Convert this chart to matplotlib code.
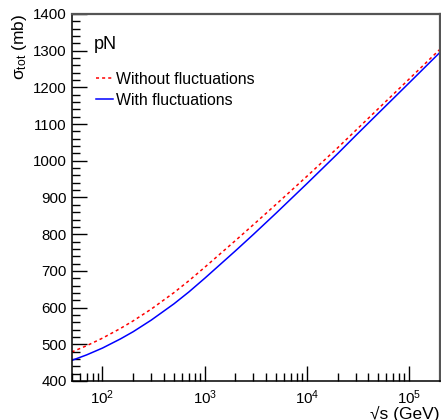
import matplotlib
matplotlib.use('Agg')
import matplotlib.pyplot as plt
from matplotlib.ticker import MultipleLocator, LogLocator, NullFormatter

plt.rcParams['font.family'] = ['Liberation Sans', 'DejaVu Sans']
plt.rcParams['mathtext.fontset'] = 'custom'
plt.rcParams['mathtext.rm'] = 'Liberation Sans'
plt.rcParams['mathtext.it'] = 'Liberation Sans:italic'

# sqrt(s) in GeV
sqrt_s = [50, 70, 100, 150, 200, 300, 500, 700, 1000, 2000, 3000, 5000,
          1e4, 2e4, 3e4, 5e4, 1e5, 2e5]
# total cross section (mb)
sig_no_fluct = [479.0, 496.1, 516.7, 543.2, 563.9, 595.9, 640.7, 673.1, 709.8,
                782.7, 826.1, 881.5, 957.8, 1035.5, 1082.7, 1142.2, 1222.8, 1303.8]
sig_fluct = [456.0, 471.1, 489.7, 514.7, 534.4, 565.9, 610.2, 642.6, 679.8,
             754.7, 799.6, 857.5, 937.8, 1019.5, 1068.7, 1129.7, 1212.3, 1295.3]

fig = plt.figure(figsize=(4.41, 4.20), dpi=100)
ax = fig.add_axes([0.1626, 0.0929, 0.835, 0.8738])

ax.plot(sqrt_s, sig_no_fluct, color='red', lw=1.1, ls=(0, (2, 2)), label='Without fluctuations')
ax.plot(sqrt_s, sig_fluct, color='blue', lw=1.1, label='With fluctuations')

ax.set_xscale('log')
ax.set_xlim(50, 2e5)
ax.set_ylim(400, 1400)

ax.yaxis.set_major_locator(MultipleLocator(100))
ax.yaxis.set_minor_locator(MultipleLocator(20))
ax.xaxis.set_major_locator(LogLocator(base=10, numticks=10))
ax.xaxis.set_minor_locator(LogLocator(base=10, subs=range(2, 10), numticks=10))
ax.xaxis.set_minor_formatter(NullFormatter())

ax.tick_params(which='both', direction='in', top=False, right=False, labelsize=10.8, width=1)
ax.tick_params(which='major', length=11)
ax.tick_params(which='minor', length=5.5)
ax.tick_params(axis='x', pad=5)

for s in ['top', 'right']:
    ax.spines[s].set_color('#555555')
    ax.spines[s].set_linewidth(1.6)
for s in ['left', 'bottom']:
    ax.spines[s].set_linewidth(1.1)

ax.set_ylabel(r'σ$_{\rm tot}$ (mb)', fontsize=12.5, loc='top', labelpad=3)
ax.set_xlabel('√s (GeV)', fontsize=12.5, loc='right', labelpad=-0.5)

ax.text(0.06, 0.918, 'pN', transform=ax.transAxes, fontsize=13, va='center')

ax.legend(loc='upper left', bbox_to_anchor=(0.066, 0.843), frameon=False,
          fontsize=11.4, handlelength=1.1, handletextpad=0.15, labelspacing=0.4,
          borderaxespad=0, borderpad=0)

fig.savefig('out.png', dpi=100)
